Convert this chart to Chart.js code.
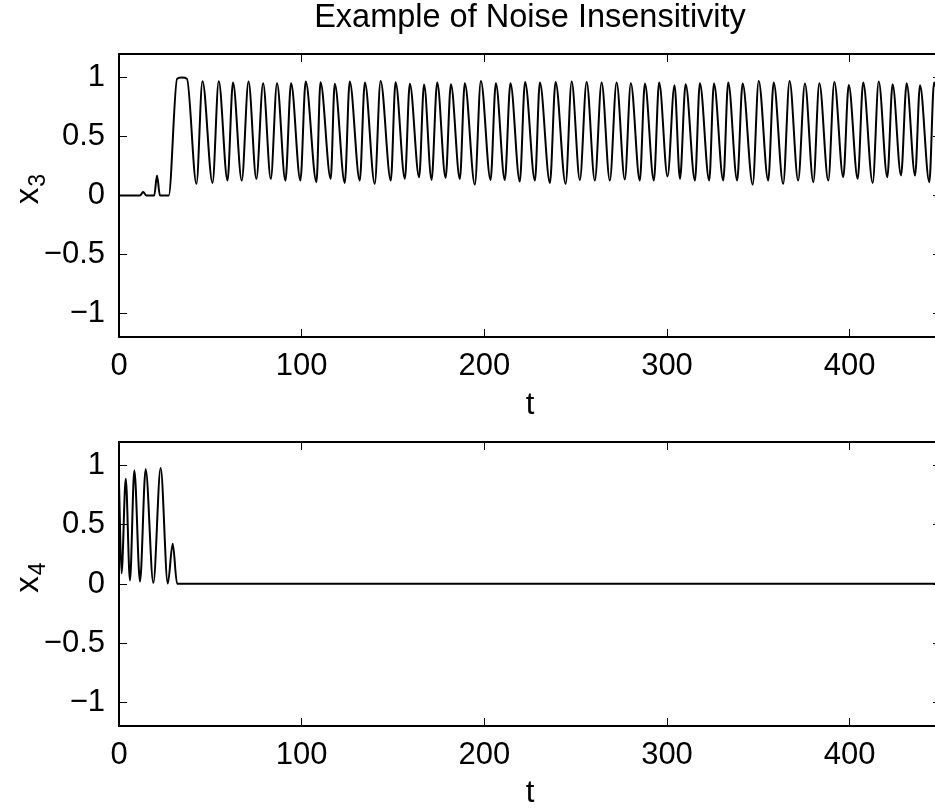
<!DOCTYPE html>
<html>
<head>
<meta charset="utf-8">
<script src="https://cdn.jsdelivr.net/npm/chart.js@4.4.1/dist/chart.umd.min.js"></script>
<style>
  html, body { margin: 0; padding: 0; background: #fff; overflow: hidden; width: 935px; height: 809px; }
  canvas { position: absolute; left: 0; }
  #c1 { top: 0; }
  #c2 { top: 420px; }
</style>
</head>
<body>
<canvas id="c1" width="1060" height="421"></canvas>
<canvas id="c2" width="1060" height="389"></canvas>
<script>
// ---- data ----
const titleText = 'Example of Noise Insensitivity';
const xAxisLabel = 't';
const x3Label = ['x', '3'];   // base, subscript
const x4Label = ['x', '4'];
const xTicks = [0, 100, 200, 300, 400];
const yTicks = [-1, -0.5, 0, 0.5, 1];
const xRange = [0, 450];
const yRange = [-1.2, 1.2];

// x3: start-up, plateau, then alternating troughs/peaks
const x3Times = [0, 11.5, 13.2, 15, 19.3, 20.8, 22.4, 27.2, 31.8, 34.5, 37.2, 42.4,
  45.7, 51.2, 54.6, 59.4, 62.4, 67.2, 70.9, 75.2, 78.9, 83.1, 86.5, 91.1, 94.2, 99.3,
  102.2, 108.1, 110.3, 115.9, 118.1, 123.6, 126.3, 131.8, 134.6, 140.0, 143.2, 148.8,
  151.4, 156.5, 159.2, 164.3, 167.0, 171.1, 174.2, 178.8, 181.7, 186.6, 189.3, 194.8,
  198.1, 203.4, 206.3, 211.2, 214.3, 219.4, 222.3, 227.7, 230.4, 235.9, 239.0, 244.5,
  247.8, 252.3, 256.0, 260.5, 264.2, 268.7, 272.4, 276.9, 280.2, 285.1, 287.9, 292.8,
  295.7, 300.3, 304.1, 307.1, 310.2, 315.3, 318.0, 323.1, 325.7, 330.8, 333.5, 338.4,
  341.4, 346.9, 350.2, 355.4, 358.4, 363.6, 367.1, 371.8, 375.5, 380.1, 383.4, 388.3,
  391.6, 396.5, 399.5, 404.4, 407.4, 412.6, 415.9, 420.6, 423.5, 428.1, 431.2, 435.8,
  438.5, 443.6, 446.2, 450];
const x3Values = [0, 0, 0.03, 0, 0, 0.17, 0, 0, 0.99, 1.0, 0.99, 0.099,
  0.969, 0.107, 0.969, 0.127, 0.958, 0.127, 0.966, 0.141, 0.952, 0.141, 0.952, 0.127, 0.952, 0.127,
  0.966, 0.113, 0.961, 0.141, 0.947, 0.107, 0.966, 0.127, 0.958, 0.099, 0.972, 0.127,
  0.961, 0.141, 0.947, 0.155, 0.941, 0.132, 0.958, 0.149, 0.944, 0.141, 0.952, 0.093,
  0.972, 0.132, 0.952, 0.132, 0.952, 0.118, 0.963, 0.127, 0.958, 0.107, 0.963, 0.099,
  0.966, 0.132, 0.963, 0.127, 0.958, 0.127, 0.958, 0.135, 0.952, 0.127, 0.949, 0.127,
  0.958, 0.161, 0.935, 0.141, 0.944, 0.127, 0.952, 0.127, 0.949, 0.127, 0.958, 0.127,
  0.949, 0.093, 0.972, 0.127, 0.958, 0.099, 0.972, 0.127, 0.949, 0.113, 0.952, 0.127,
  0.963, 0.155, 0.938, 0.141, 0.958, 0.107, 0.966, 0.155, 0.944, 0.169, 0.952, 0.169,
  0.935, 0.113, 0.958, 0.55];

// x4: a few early spikes, then flat near zero
const x4Times = [0, 1.4, 3.7, 6.0, 8.4, 11.5, 14.6, 18.8, 22.8, 26.7, 29.4, 31.8, 100, 200, 300, 400, 450];
const x4Values = [0.85, 0.09, 0.89, 0.03, 0.96, 0.02, 0.97, 0.01, 0.98, 0.005, 0.34, 0.003, 0.003, 0.003, 0.003, 0.003, 0.003];

// ---- chart construction ----
const FONT = 'Liberation Sans, Arial, Helvetica, sans-serif';
Chart.defaults.font.family = FONT;
Chart.defaults.color = '#000';

function toPoints(ts, vs) { return ts.map((t, i) => ({ x: t, y: vs[i] })); }
const fixTicks = vals => scale => { scale.ticks = vals.map(v => ({ value: v })); };
const fmtY = v => (v < 0 ? '\u2212' + Math.abs(v) : String(v));
const fitTo = (w, h) => s => {
  if (w !== null) s.width = w;
  if (h !== null) s.height = h;
  s.paddingTop = 0; s.paddingBottom = 0; s.paddingLeft = 0; s.paddingRight = 0;
};

// y-axis label with a real subscript (base letter + smaller, lowered index)
const subLabelPlugin = {
  id: 'subLabel',
  afterDraw(chart, args, opts) {
    const s = chart.scales.y;
    const ctx = chart.ctx;
    const [base, sub] = opts.text;
    ctx.save();
    ctx.fillStyle = '#000';
    ctx.textBaseline = 'alphabetic';
    ctx.textAlign = 'left';
    const bigFont = '33px ' + FONT, smallFont = '23px ' + FONT;
    ctx.font = bigFont; const wb = ctx.measureText(base).width;
    ctx.font = smallFont; const ws = ctx.measureText(sub).width;
    const cy = s.top + s.height / 2 - 6;
    ctx.translate(38, cy);
    ctx.rotate(-Math.PI / 2);
    const start = -(wb + ws) / 2;
    ctx.font = bigFont; ctx.fillText(base, start, 0);
    ctx.font = smallFont; ctx.fillText(sub, start + wb + 1, 7);
    ctx.restore();
  }
};

function gridOpts() {
  return { display: true, drawOnChartArea: false, drawTicks: true, tickLength: -8, tickColor: '#000', tickWidth: 1 };
}
function borderOpts() { return { display: true, color: '#000', width: 2 }; }

function makeChart(id, pts, yLabel, showTitle, topH, bottomH) {
  return new Chart(document.getElementById(id), {
    type: 'line',
    data: {
      datasets: [{
        data: pts,
        borderColor: '#000',
        borderWidth: 2,
        pointRadius: 0,
        fill: false,
        cubicInterpolationMode: 'monotone'
      }]
    },
    plugins: [subLabelPlugin],
    options: {
      responsive: false,
      animation: false,
      devicePixelRatio: 1,
      layout: { padding: 0 },
      plugins: {
        legend: { display: false },
        tooltip: { enabled: false },
        subLabel: { text: yLabel },
        title: {
          display: showTitle,
          text: titleText,
          color: '#000',
          font: { family: FONT, size: 32.5, weight: 'normal', lineHeight: 1 },
          padding: { top: 1.5, bottom: 0 }
        }
      },
      scales: {
        x: {
          type: 'linear', position: 'bottom', min: xRange[0], max: xRange[1],
          afterBuildTicks: fixTicks(xTicks),
          afterFit: fitTo(null, bottomH),
          ticks: { autoSkip: false, maxRotation: 0, padding: 22, color: '#000',
                   font: { size: 31, lineHeight: 1 } },
          grid: gridOpts(), border: borderOpts(),
          title: { display: true, text: xAxisLabel, color: '#000',
                   font: { size: 31, lineHeight: 1 }, padding: { top: 0, bottom: 0 } }
        },
        x2: {
          type: 'linear', position: 'top', min: xRange[0], max: xRange[1],
          afterBuildTicks: fixTicks(xTicks),
          afterFit: fitTo(null, topH),
          ticks: { display: false },
          grid: gridOpts(), border: borderOpts()
        },
        y: {
          type: 'linear', position: 'left', min: yRange[0], max: yRange[1],
          afterBuildTicks: fixTicks(yTicks),
          afterFit: fitTo(119, null),
          ticks: { autoSkip: false, padding: 22, color: '#000', callback: fmtY,
                   font: { size: 31, lineHeight: 1 } },
          grid: gridOpts(), border: borderOpts(),
          title: { display: false, text: yLabel.join('') }
        },
        y2: {
          type: 'linear', position: 'right', min: yRange[0], max: yRange[1],
          afterBuildTicks: fixTicks(yTicks),
          afterFit: fitTo(119, null),
          ticks: { display: false },
          grid: gridOpts(), border: borderOpts()
        }
      }
    }
  });
}

makeChart('c1', toPoints(x3Times, x3Values), x3Label, true, 20, 84);
makeChart('c2', toPoints(x4Times, x4Values), x4Label, false, 22, 83);
</script>
</body>
</html>
